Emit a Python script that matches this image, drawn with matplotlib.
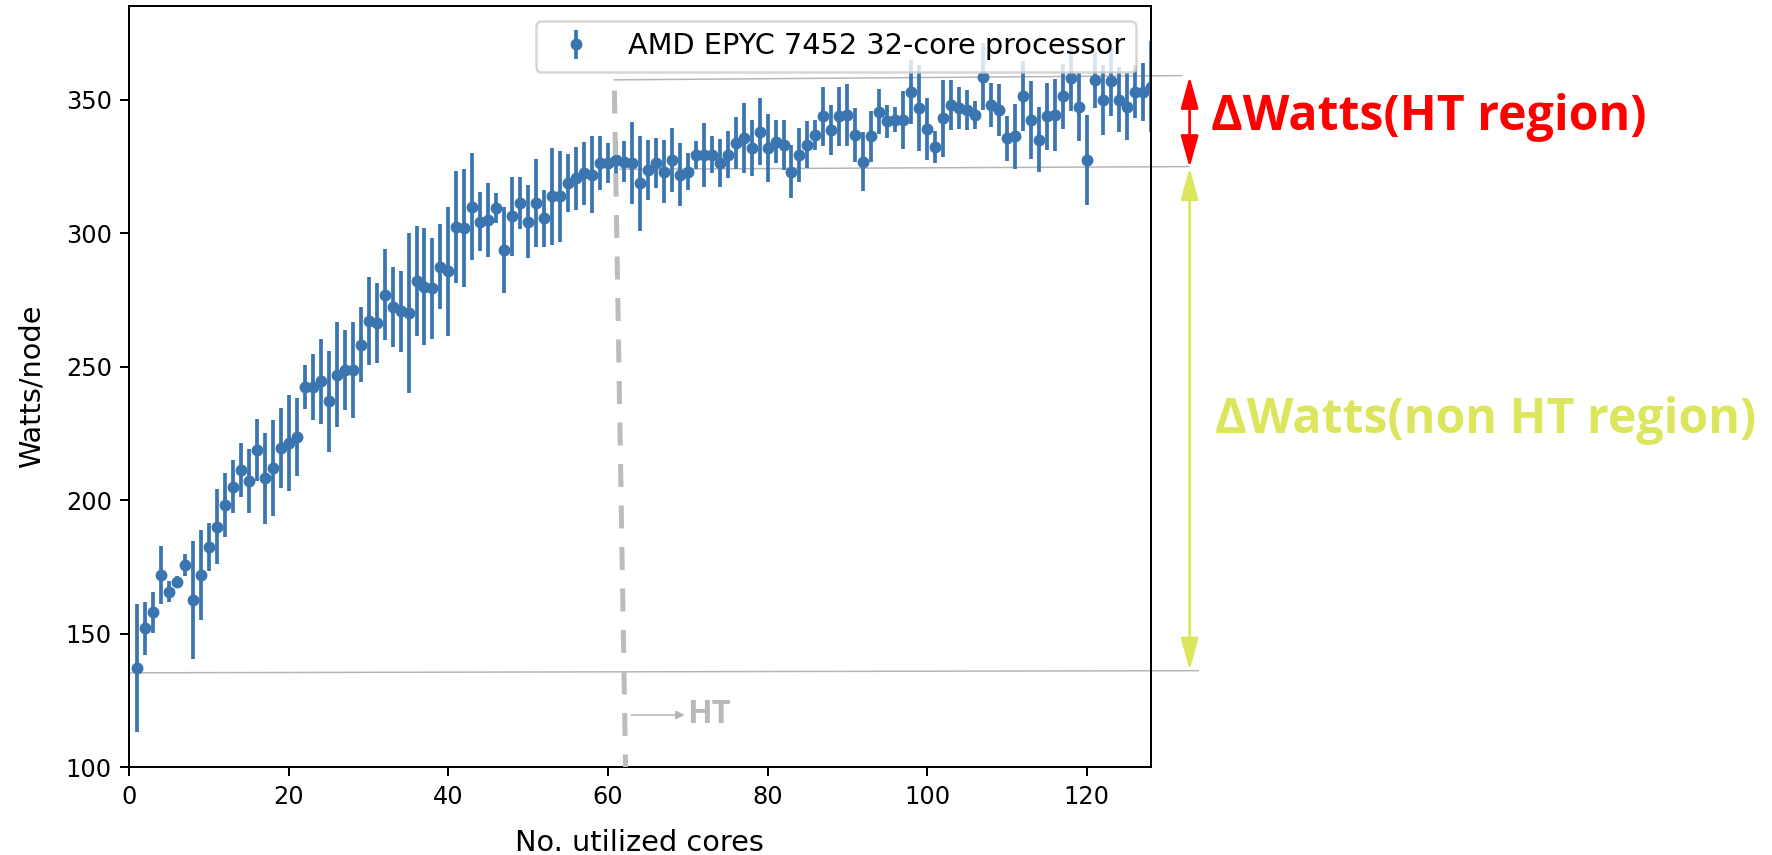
import numpy as np
import matplotlib
matplotlib.use("Agg")
import matplotlib.pyplot as plt

# data: mean power per node and its spread, for 1..128 used cores
cores = np.arange(1, 129)
watts = [
    137.0, 152.0, 158.0, 172.0, 165.7, 169.5, 175.7, 162.6, 172.0, 182.6,
    190.0, 198.2, 205.0, 211.3, 207.0, 218.8, 208.2, 212.0, 219.4, 221.3,
    223.8, 242.4, 242.4, 244.5, 237.0, 247.0, 248.8, 248.8, 258.2, 267.0,
    266.3, 277.0, 272.5, 270.7, 270.0, 282.0, 280.0, 279.4, 287.5, 285.7,
    302.5, 302.0, 310.0, 304.4, 305.0, 309.4, 293.8, 306.3, 311.3, 304.4,
    311.3, 305.6, 313.8, 313.8, 318.8, 320.6, 322.5, 322.0, 326.3, 326.3,
    327.5, 326.9, 326.3, 318.8, 323.8, 326.3, 323.1, 327.5, 322.0, 323.1,
    329.4, 329.4, 329.4, 326.3, 329.4, 333.8, 335.6, 331.9, 338.1, 331.9,
    334.4, 333.2, 323.1, 329.4, 333.2, 336.9, 343.8, 338.8, 343.8, 344.4,
    336.9, 326.9, 336.3, 345.6, 341.9, 342.5, 342.5, 353.1, 347.0, 339.0,
    332.5, 343.1, 348.1, 346.9, 346.3, 344.4, 358.7, 348.1, 346.3, 335.6,
    336.3, 351.3, 342.5, 335.0, 343.8, 344.4, 351.3, 358.1, 347.3, 327.5,
    357.5, 350.0, 356.9, 350.0, 347.5, 353.1, 353.1, 355.0,
]
watts_err = [
    24.0, 10.0, 7.6, 11.0, 4.0, 2.0, 4.0, 22.0, 17.0, 9.0,
    14.0, 12.0, 10.0, 10.0, 12.0, 11.5, 17.0, 18.0, 15.0, 18.0,
    14.6, 8.4, 12.5, 16.0, 19.0, 19.7, 15.0, 18.0, 14.0, 16.5,
    15.0, 17.0, 15.0, 15.0, 30.0, 20.6, 22.0, 19.0, 16.0, 24.0,
    21.0, 22.0, 20.0, 11.0, 14.0, 5.6, 16.0, 14.7, 9.7, 13.7,
    16.6, 10.6, 18.1, 16.9, 10.9, 11.9, 11.9, 14.4, 10.0, 7.5,
    7.0, 7.8, 15.3, 17.8, 11.3, 9.4, 11.9, 11.9, 11.9, 6.9,
    5.3, 11.9, 6.9, 9.1, 8.8, 9.7, 13.1, 10.6, 12.5, 12.8,
    8.1, 9.4, 10.0, 10.0, 8.75, 5.6, 10.9, 9.4, 10.9, 11.6,
    10.0, 11.2, 9.4, 8.4, 6.25, 4.7, 10.9, 12.0, 16.0, 11.6,
    6.0, 14.4, 9.4, 7.8, 7.5, 5.3, 12.5, 8.1, 9.7, 8.4,
    12.2, 13.1, 14.7, 12.2, 12.5, 13.4, 12.2, 12.2, 12.8, 16.9,
    10.6, 13.1, 13.1, 12.2, 12.5, 10.0, 10.9, 16.9,
]
label = "AMD EPYC 7452 32-core processor"

# annotation levels (Watts) and the HT boundary (cores)
idle_w = 135.3
knee_w = 324.6
top_w = 358.3
ht_core = (60.8, 62.2)

blue = "#3a75b0"
grey = "#b5b5b5"
red = "#ff0000"
lime = "#dce65c"
bold_font = ["Open Sans", "DejaVu Sans"]

fig = plt.figure(figsize=(1772 / 180, 855 / 180), dpi=180)
ax = fig.add_axes([0.07297, 0.10292, 0.5763, 0.8895])

ax.errorbar(cores, watts, yerr=watts_err, fmt=".", ms=7.5, color=blue, label=label)
ax.set_xlim(0, 128)
ax.set_ylim(100, 385)
ax.tick_params(labelsize=9.6)
ax.set_xlabel("No. utilized cores", fontsize=11.5, labelpad=8)
ax.set_ylabel("Watts/node", fontsize=11.5, labelpad=8)
ax.legend(loc="upper right", fontsize=11.5)

# hand drawn guide lines
ax.plot([0, 134], [idle_w, idle_w + 0.8], color=grey, lw=0.6, clip_on=False, zorder=1)
ax.plot([61.5, 132.8], [knee_w - 0.6, knee_w + 0.4], color=grey, lw=0.6, clip_on=False, zorder=1)
ax.plot([60.8, 131.9], [top_w - 0.8, top_w + 0.8], color=grey, lw=0.6, clip_on=False, zorder=1)
ax.plot(ht_core, [353.5, 100], color="#bcbcbc", lw=2, dashes=(4.6, 3.7), clip_on=False, zorder=3)

ax.annotate("", xy=(69.6, 119.5), xytext=(62.9, 119.5),
            arrowprops=dict(arrowstyle="-|>", color=grey, lw=0.6, mutation_scale=7,
                            shrinkA=0, shrinkB=0))
ax.text(69.9, 119.5, "HT", color="#b8b8b8", fontsize=13, fontweight="bold",
        family=bold_font, va="center", ha="left")

# delta arrows on the right
ax.annotate("", xy=(132.9, top_w + 0.5), xytext=(132.9, knee_w), annotation_clip=False,
            arrowprops=dict(arrowstyle="<|-|>,head_length=0.9,head_width=0.25", color=red,
                            lw=1.1, mutation_scale=12, shrinkA=0, shrinkB=0))
ax.annotate("", xy=(132.9, knee_w), xytext=(132.9, idle_w + 1), annotation_clip=False,
            arrowprops=dict(arrowstyle="<|-|>,head_length=0.9,head_width=0.25", color=lime,
                            lw=1.1, mutation_scale=12, shrinkA=0, shrinkB=0))
ax.text(135.6, 338.8, "ΔWatts(HT region)", color=red, fontsize=19.3, fontweight="bold",
        family=bold_font, va="baseline", ha="left", clip_on=False)
ax.text(136.1, 225.2, "ΔWatts(non HT region)", color=lime, fontsize=19.3, fontweight="bold",
        family=bold_font, va="baseline", ha="left", clip_on=False)

fig.savefig("out.png", dpi=180)
